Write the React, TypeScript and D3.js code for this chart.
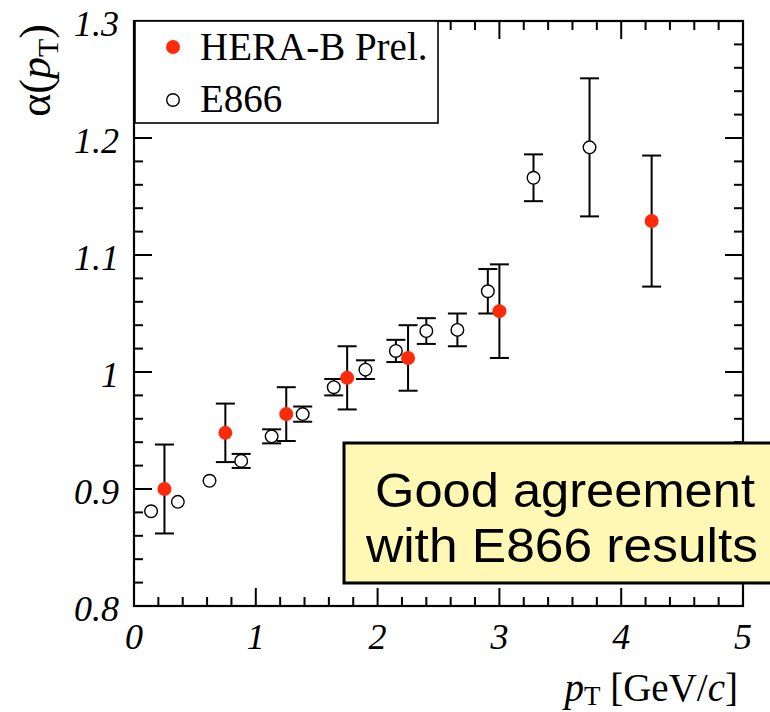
import * as d3 from "d3";

const W = 770;
const H = 712;
const FRAME = {left: 134, right: 743, top: 21, bottom: 606};

const X_DOMAIN = [0, 5];
const Y_DOMAIN = [0.8, 1.3];
const X_TICKS = [0, 1, 2, 3, 4, 5];
const Y_TICKS = [0.8, 0.9, 1.0, 1.1, 1.2, 1.3];
const Y_TICK_LABELS = ["0.8", "0.9", "1", "1.1", "1.2", "1.3"];

// HERA-B preliminary (filled red)
const heraX = [0.25, 0.75, 1.25, 1.75, 2.25, 3.0, 4.25];
const heraY = [0.9, 0.948, 0.964, 0.995, 1.012, 1.052, 1.129];
const heraErr = [0.038, 0.025, 0.023, 0.027, 0.028, 0.04, 0.056];

// E866 (open circles)
const e866X = [0.14, 0.36, 0.62, 0.88, 1.13, 1.385, 1.64, 1.9, 2.15, 2.4, 2.655, 2.905, 3.28, 3.74];
const e866Y = [0.881, 0.889, 0.907, 0.924, 0.945, 0.964, 0.987, 1.002, 1.018, 1.035, 1.036, 1.069, 1.166, 1.192];
const e866Err = [0.003, 0.003, 0.003, 0.006, 0.006, 0.0065, 0.007, 0.008, 0.0095, 0.011, 0.014, 0.019, 0.02, 0.059];

const SERIF = "'Liberation Serif', 'Times New Roman', serif";
const SANS = "'Liberation Sans', Arial, sans-serif";
const RED = "#ff2a0a";

const xScale = d3.scaleLinear().domain(X_DOMAIN).range([FRAME.left, FRAME.right]);
const yScale = d3.scaleLinear().domain(Y_DOMAIN).range([FRAME.bottom, FRAME.top]);

function ErrorBar({x, y, err, r}: {x: number; y: number; err: number; r: number}) {
    const cx = xScale(x);
    const cy = yScale(y);
    const top = yScale(y + err);
    const bot = yScale(y - err);
    // ROOT skips bars that are hidden inside the marker
    if (cy - top <= r) return null;
    const cap = 9.5;
    return (
        <g stroke="black" strokeWidth={2}>
            <line x1={cx} x2={cx} y1={top} y2={cy - r}/>
            <line x1={cx} x2={cx} y1={cy + r} y2={bot}/>
            <line x1={cx - cap} x2={cx + cap} y1={top} y2={top}/>
            <line x1={cx - cap} x2={cx + cap} y1={bot} y2={bot}/>
        </g>
    );
}

export default function App() {
    const xMinor = d3.range(0, 5.0001, 0.2);
    const yMinor = d3.range(0.8, 1.3001, 0.02);

    return (
        <svg width={W} height={H} style={{position: "absolute", left: 0, top: 0, background: "white"}}>
            {/* ticks on all four sides */}
            <g stroke="black" strokeWidth={2}>
                {xMinor.map((v, i) => {
                    const major = X_TICKS.some((t) => Math.abs(t - v) < 1e-6);
                    const len = major ? 18 : 9;
                    const x = xScale(v);
                    return (
                        <g key={"xt" + i}>
                            <line x1={x} x2={x} y1={FRAME.bottom} y2={FRAME.bottom - len}/>
                            <line x1={x} x2={x} y1={FRAME.top} y2={FRAME.top + len}/>
                        </g>
                    );
                })}
                {yMinor.map((v, i) => {
                    const major = Y_TICKS.some((t) => Math.abs(t - v) < 1e-6);
                    const len = major ? 18 : 9;
                    const y = yScale(v);
                    return (
                        <g key={"yt" + i}>
                            <line x1={FRAME.left} x2={FRAME.left + len} y1={y} y2={y}/>
                            <line x1={FRAME.right} x2={FRAME.right - len} y1={y} y2={y}/>
                        </g>
                    );
                })}
            </g>
            <rect x={FRAME.left} y={FRAME.top} width={FRAME.right - FRAME.left}
                  height={FRAME.bottom - FRAME.top} fill="none" stroke="black" strokeWidth={2.2}/>

            {/* tick labels */}
            <g fontFamily={SERIF} fontStyle="italic" fontSize={36}>
                {X_TICKS.map((t) => (
                    <text key={"xl" + t} x={xScale(t)} y={649} textAnchor="middle">{t}</text>
                ))}
                {Y_TICKS.map((t, i) => (
                    <text key={"yl" + t} x={119} y={yScale(t) + 15} textAnchor="end">{Y_TICK_LABELS[i]}</text>
                ))}
            </g>

            {/* axis titles */}
            <text x={738} y={701} textAnchor="end" fontFamily={SERIF} fontSize={39}>
                <tspan fontStyle="italic">p</tspan>
                <tspan fontSize={27} dy={4}>T</tspan>
                <tspan dy={-4}> [GeV/</tspan>
                <tspan fontStyle="italic">c</tspan>
                <tspan>]</tspan>
            </text>
            <text transform="translate(50,24) rotate(-90)" textAnchor="end" fontFamily={SERIF} fontSize={44}>
                <tspan>α(</tspan>
                <tspan fontStyle="italic">p</tspan>
                <tspan fontSize={30} dy={8}>T</tspan>
                <tspan dy={-8}>)</tspan>
            </text>

            {/* E866 */}
            {e866X.map((x, i) => (
                <g key={"e" + i}>
                    <ErrorBar x={x} y={e866Y[i]} err={e866Err[i]} r={6.3}/>
                    <circle cx={xScale(x)} cy={yScale(e866Y[i])} r={6.3} fill="none" stroke="black" strokeWidth={1.4}/>
                </g>
            ))}

            {/* HERA-B */}
            {heraX.map((x, i) => (
                <g key={"h" + i}>
                    <ErrorBar x={x} y={heraY[i]} err={heraErr[i]} r={0}/>
                    <circle cx={xScale(x)} cy={yScale(heraY[i])} r={7} fill={RED}/>
                </g>
            ))}

            {/* legend */}
            <rect x={135} y={21} width={303} height={102} fill="white" stroke="black" strokeWidth={1.6}/>
            <circle cx={173} cy={47} r={7} fill={RED}/>
            <circle cx={173} cy={100} r={6.3} fill="none" stroke="black" strokeWidth={1.4}/>
            <g fontFamily={SERIF} fontSize={39}>
                <text x={200} y={60}>HERA-B Prel.</text>
                <text x={200} y={112}>E866</text>
            </g>

            {/* annotation */}
            <rect x={344} y={443} width={440} height={140} fill="#fff8b4" stroke="black" strokeWidth={3}/>
            <g fontFamily={SANS} fontSize={48} textAnchor="middle">
                <text x={565} y={507} textLength={380} lengthAdjust="spacingAndGlyphs">Good agreement</text>
                <text x={562} y={562} textLength={392} lengthAdjust="spacingAndGlyphs">with E866 results</text>
            </g>
        </svg>
    );
}
